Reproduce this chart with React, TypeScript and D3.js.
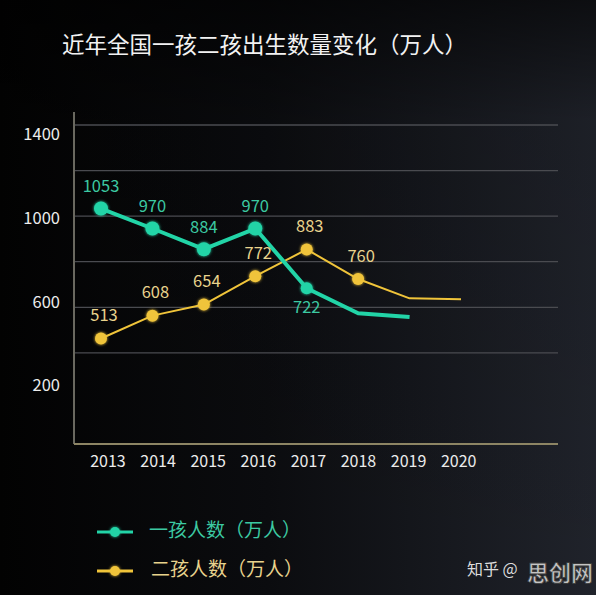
import React from "react";
import * as d3 from "d3";

const title = "近年全国一孩二孩出生数量变化（万人）";
const years = ["2013", "2014", "2015", "2016", "2017", "2018", "2019", "2020"];
const firstChild = [1053, 970, 884, 970, 722, 618, 602];
const secondChild = [513, 608, 654, 772, 883, 760, 680, 676];
const firstLabels = ["1053", "970", "884", "970", "722", "", ""];
const secondLabels = ["513", "608", "654", "772", "883", "760", "", ""];
const firstDots = [true, true, true, true, true, false, false];
const secondDots = [true, true, true, true, true, true, false, false];
const yTickLabels = ["1400", "1000", "600", "200"];
const gridIdx = [0, 1, 2, 3, 4, 5];
const legendNames = ["一孩人数（万人）", "二孩人数（万人）"];

const W = 596;
const H = 595;
const GREEN = "#22d4a7";
const GREEN_TXT = "#3cc9a2";
const YELLOW = "#f0c43a";
const YELLOW_TXT = "#e9d38d";
const FONT = "'Noto Sans CJK SC', 'Noto Sans', sans-serif";

export default function App() {
  const x = d3.scalePoint<string>().domain(years).range([101, 461]);
  const y = d3.scaleLinear().domain([0, 1400]).range([462, 125]);
  const gy = d3.scaleLinear().domain([0, 7]).range([125, 444]);
  const ty = d3.scalePoint<string>().domain(yTickLabels).range([136, 387]);

  const line = d3
    .line<number>()
    .x((_, i) => x(years[i]) as number)
    .y((d) => y(d));

  return (
    <svg
      width={W}
      height={H}
      style={{ position: "absolute", left: 0, top: 0, display: "block" }}
    >
      <defs>
        <linearGradient id="bgH" x1="0" x2="1" y1="0" y2="0">
          <stop offset="0" stopColor="#020202" />
          <stop offset="0.45" stopColor="#0b0c0f" />
          <stop offset="1" stopColor="#20232b" />
        </linearGradient>
        <linearGradient id="bgV" x1="0" x2="0" y1="0" y2="1">
          <stop offset="0" stopColor="#000" stopOpacity="0.6" />
          <stop offset="0.2" stopColor="#000" stopOpacity="0.1" />
          <stop offset="1" stopColor="#000" stopOpacity="0" />
        </linearGradient>
        <filter id="glow" x="-100%" y="-100%" width="300%" height="300%">
          <feGaussianBlur stdDeviation="1.6" result="b" />
          <feMerge>
            <feMergeNode in="b" />
            <feMergeNode in="SourceGraphic" />
          </feMerge>
        </filter>
      </defs>
      <rect x={0} y={0} width={W} height={H} fill="url(#bgH)" />
      <rect x={0} y={0} width={W} height={H} fill="url(#bgV)" />

      <text x={62} y={53} fill="#f2f2f2" fontSize={22.5} fontFamily={FONT}>
        {title}
      </text>

      {gridIdx.map((g) => (
        <line
          key={g}
          x1={75}
          x2={558}
          y1={gy(g)}
          y2={gy(g)}
          stroke="#4a4b50"
          strokeWidth={1.3}
        />
      ))}
      <line x1={74} x2={74} y1={112} y2={444} stroke="#8b8a7e" strokeWidth={1.5} />
      <line x1={74} x2={558} y1={444} y2={444} stroke="#8d8564" strokeWidth={1.8} />

      {yTickLabels.map((t) => (
        <text
          key={t}
          x={60}
          y={ty(t)}
          fill="#ececec"
          fontSize={16.5}
          textAnchor="end"
          dominantBaseline="middle"
          fontFamily={FONT}
        >
          {t}
        </text>
      ))}

      {years.map((yr, i) => (
        <text
          key={yr}
          x={108 + i * 50.1}
          y={463}
          fill="#ececec"
          fontSize={16}
          textAnchor="middle"
          dominantBaseline="middle"
          fontFamily={FONT}
        >
          {yr}
        </text>
      ))}

      <path
        d={line(secondChild) || ""}
        fill="none"
        stroke={YELLOW}
        strokeWidth={2}
        strokeLinejoin="round"
      />
      <path
        d={line(firstChild) || ""}
        fill="none"
        stroke={GREEN}
        strokeWidth={4}
        strokeLinejoin="round"
      />

      {secondChild.map((v, i) =>
        secondDots[i] ? (
          <circle
            key={"s" + i}
            cx={x(years[i])}
            cy={y(v)}
            r={6}
            fill={YELLOW}
            filter="url(#glow)"
          />
        ) : null
      )}
      {firstChild.map((v, i) =>
        firstDots[i] ? (
          <circle
            key={"f" + i}
            cx={x(years[i])}
            cy={y(v)}
            r={i === 4 ? 6 : 7}
            fill={GREEN}
            filter="url(#glow)"
          />
        ) : null
      )}

      {firstChild.map((v, i) =>
        firstLabels[i] ? (
          <text
            key={"fl" + i}
            x={x(years[i])}
            y={i === 4 ? y(v) + 20 : y(v) - 21}
            fill={GREEN_TXT}
            fontSize={16.5}
            textAnchor="middle"
            dominantBaseline="middle"
            fontFamily={FONT}
          >
            {firstLabels[i]}
          </text>
        ) : null
      )}
      {secondChild.map((v, i) =>
        secondLabels[i] ? (
          <text
            key={"sl" + i}
            x={(x(years[i]) as number) + 3}
            y={y(v) - 22}
            fill={YELLOW_TXT}
            fontSize={16.5}
            textAnchor="middle"
            dominantBaseline="middle"
            fontFamily={FONT}
          >
            {secondLabels[i]}
          </text>
        ) : null
      )}

      {legendNames.map((n, i) => {
        const ly = 532 + i * 39;
        const c = i === 0 ? GREEN : YELLOW;
        return (
          <g key={n}>
            <line x1={97} x2={133} y1={ly} y2={ly} stroke={c} strokeWidth={3} />
            <circle cx={115} cy={ly} r={5} fill={c} filter="url(#glow)" />
            <text
              x={i === 0 ? 149 : 151}
              y={ly}
              fill={i === 0 ? GREEN_TXT : YELLOW_TXT}
              fontSize={19}
              dominantBaseline="middle"
              fontFamily={FONT}
            >
              {n}
            </text>
          </g>
        );
      })}

      <text
        x={467}
        y={571}
        fill="#dcdcdc"
        fontSize={16}
        dominantBaseline="middle"
        fontFamily={FONT}
      >
        知乎 @
      </text>
      <text
        x={527}
        y={575}
        fill="#c4c4c4"
        stroke="#3a3a3a"
        strokeWidth={0.8}
        fontSize={22}
        fontWeight="bold"
        dominantBaseline="middle"
        fontFamily={FONT}
      >
        思创网
      </text>
    </svg>
  );
}
